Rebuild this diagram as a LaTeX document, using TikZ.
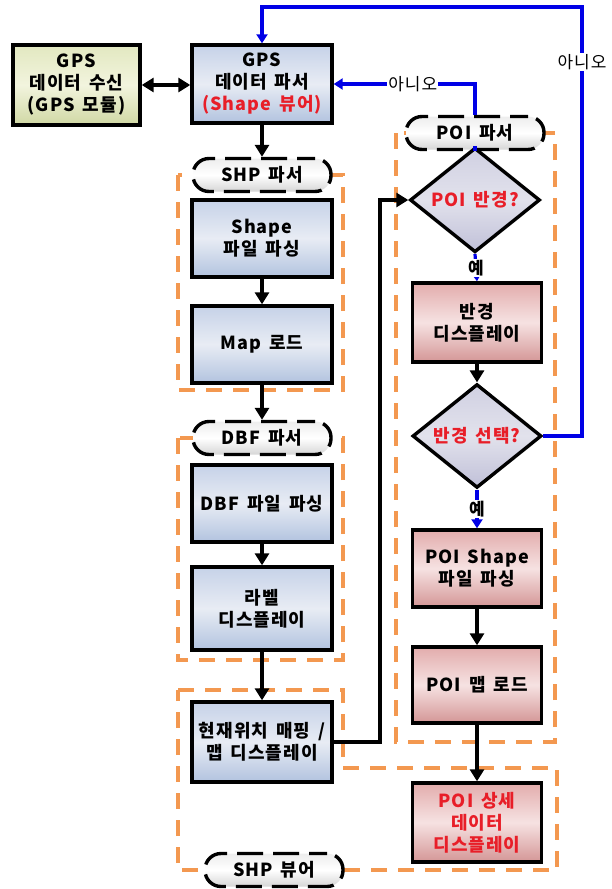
\documentclass[tikz,border=0pt]{standalone}
\usepackage{fontspec}
\setmainfont{Noto Sans CJK KR}[LetterSpace=6,WordSpace=1.5]
\usetikzlibrary{arrows.meta,shapes.geometric}
\definecolor{bluel}{RGB}{0,0,230}
\definecolor{orng}{RGB}{243,152,80}
\definecolor{redtxt}{RGB}{232,30,40}
\definecolor{bTop}{RGB}{198,210,232}
\definecolor{bMid}{RGB}{232,236,244}
\definecolor{bBot}{RGB}{178,195,223}
\definecolor{rTop}{RGB}{226,172,172}
\definecolor{rMid}{RGB}{246,226,226}
\definecolor{rBot}{RGB}{212,150,150}
\definecolor{gTop}{RGB}{226,232,192}
\definecolor{gMid}{RGB}{242,244,222}
\definecolor{gBot}{RGB}{208,216,164}
\definecolor{dTop}{RGB}{208,208,226}
\definecolor{dMid}{RGB}{226,226,236}
\definecolor{dBot}{RGB}{192,192,216}
\tikzset{
  txt/.style={font=\fontsize{18}{22}\selectfont\bfseries},
  box/.style={txt, draw=black, line width=3.4pt, minimum width=140pt, minimum height=77pt, inner sep=0pt, align=center},
  bluebox/.style={box, top color=bTop, bottom color=bBot, middle color=bMid},
  redbox/.style={box, minimum width=129pt, top color=rTop, bottom color=rBot, middle color=rMid},
  greenbox/.style={box, top color=gTop, bottom color=gBot, middle color=gMid},
  decision/.style={txt, diamond, draw=black, line width=3.4pt, minimum width=130pt, minimum height=75pt, inner sep=0pt, text=redtxt, top color=dTop, bottom color=dBot, middle color=dMid},
  term/.style={txt, draw=black, line width=3.4pt, dash pattern=on 26pt off 10pt, dash phase=8pt, rounded corners=16pt, minimum width=138pt, minimum height=33pt, inner sep=0pt, top color=gray!14, bottom color=gray!32, middle color=white},
  orbox/.style={draw=orng, line width=3.2pt, dash pattern=on 16pt off 11pt},
  arr/.style={draw=black, line width=3.4pt, -{Triangle[length=12pt,width=14pt]}},
  barr/.style={draw=bluel, line width=3.2pt, -{Triangle[length=9pt,width=11pt]}},
  bline/.style={draw=bluel, line width=3.2pt},
  lab/.style={font=\fontsize{17}{20}\selectfont, fill=white, inner sep=1pt}
}
\begin{document}
\begin{tikzpicture}[x=1pt,y=-1pt]
\useasboundingbox (0,0) rectangle (612,889);
% orange dashed groups
\draw[orbox] (178,175) rectangle (343,390);
\draw[orbox] (178,438) rectangle (343,660);
\draw[orbox] (178,690) -- (343,690) -- (343,768) -- (557,768) -- (557,870) -- (178,870) -- cycle;
\draw[orbox] (396,133) rectangle (555,742);
% nodes
\node[greenbox, minimum width=127pt, minimum height=80pt] (gpsrx) at (76.5,85) {GPS\\데이터 수신\\(GPS 모듈)};
\node[bluebox, minimum height=78pt] (gpsp) at (262,84) {GPS\\데이터 파서\\\textcolor{redtxt}{(Shape 뷰어)}};
\node[term] (shpp) at (262,175) {SHP 파서};
\node[bluebox] (shapep) at (262,238.5) {Shape\\파일 파싱};
\node[bluebox] (mapl) at (262,344.5) {Map 로드};
\node[term] (dbfp) at (262,438) {DBF 파서};
\node[bluebox] (dbfparse) at (262,503.5) {DBF 파일 파싱};
\node[bluebox, minimum height=83pt] (label) at (262,608.5) {라벨\\디스플레이};
\node[bluebox, minimum height=80pt] (curpos) at (262,742) {현재위치 매핑 /\\맵 디스플레이};
\node[term] (shpv) at (274,870) {SHP 뷰어};
\node[term] (poip) at (475,133) {POI 파서};
\node[decision] (d1) at (475,200) {POI 반경?};
\node[redbox, minimum height=79pt] (raddisp) at (477,322.5) {반경\\디스플레이};
\node[decision, minimum width=129pt] (d2) at (477,436) {반경 선택?};
\node[redbox] (poishape) at (477,568.5) {POI Shape\\파일 파싱};
\node[redbox, minimum height=76pt] (poimap) at (477,685) {POI 맵 로드};
\node[redbox, minimum height=79pt, text=redtxt] (poidet) at (477,822.5) {POI 상세\\데이터\\디스플레이};
% coordinates for bends
\coordinate (cTR) at (582,7);
\coordinate (cBL) at (380,742);
% black connectors
\draw[draw=black, line width=3.4pt, {Triangle[length=12pt,width=14pt]}-{Triangle[length=12pt,width=14pt]}] (gpsrx.east) -- (gpsp.west |- gpsrx.east);
\draw[arr] (gpsp.south) -- (shpp.north);
\draw[arr] (shapep.south) -- (mapl.north);
\draw[arr] (mapl.south) -- (dbfp.north);
\draw[arr] (dbfparse.south) -- (label.north);
\draw[arr] (label.south) -- (curpos.north);
\draw[arr] (curpos.east) -- (cBL) |- (d1.west);
\draw[arr] (raddisp.south) -- (d2.north);
\draw[arr] (poishape.south) -- (poimap.north);
\draw[arr] (poimap.south) -- (poidet.north);
% blue connectors
\draw[barr] (d1.south) -- (raddisp.north) node[lab, midway, font=\fontsize{17}{20}\selectfont\bfseries] {예};
\draw[barr] (d2.south) -- (poishape.north) node[lab, midway, font=\fontsize{17}{20}\selectfont\bfseries] {예};
\draw[bline] (d1.north) -- (poip.south);
\draw[barr] (poip.north) |- (gpsp.east) node[lab, pos=0.72] {아니오};
\draw[barr] (d2.east) -| (cTR) -| (gpsp.north);
\node[lab] (no2) at (582,62) {아니오};
\end{tikzpicture}
\end{document}
